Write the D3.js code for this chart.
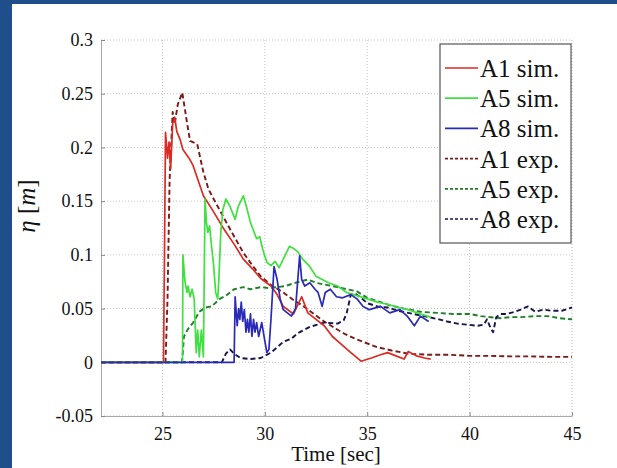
<!DOCTYPE html>
<html>
<head>
<meta charset="utf-8">
<script src="https://cdn.jsdelivr.net/npm/d3@7"></script>
<style>
  html, body { margin: 0; padding: 0; background: #1e4f8a; }
  svg { display: block; }
  svg text { font-family: 'Liberation Serif', 'Times New Roman', serif; }
</style>
</head>
<body>
<svg id="chart" width="617" height="468"></svg>
<script>
// Surface elevation at gauges A1, A5, A8: simulation (solid) vs experiment (dashed)
const xTicks = [25, 30, 35, 40, 45];
const yTicks = [-0.05, 0, 0.05, 0.1, 0.15, 0.2, 0.25, 0.3];
const yTickLabels = ["-0.05", "0", "0.05", "0.1", "0.15", "0.2", "0.25", "0.3"];
const seriesNames = ["A1 sim.", "A5 sim.", "A8 sim.", "A1 exp.", "A5 exp.", "A8 exp."];

const a1Sim = [[22,0],[25.05,0],[25.1,0.1],[25.15,0.214],[25.25,0.19],[25.32,0.205],[25.4,0.18],[25.5,0.222],[25.6,0.228],[25.7,0.215],[25.87,0.207],[26.0,0.198],[26.3,0.19],[26.5,0.183],[27.0,0.155],[27.5,0.14],[28.0,0.124],[28.5,0.11],[28.95,0.096],[29.4,0.087],[29.8,0.078],[30.3,0.071],[30.6,0.063],[30.9,0.052],[31.4,0.045],[31.8,0.061],[32.1,0.046],[32.5,0.04],[32.9,0.034],[33.3,0.024],[33.6,0.019],[34.2,0.009],[34.7,0.001],[35.2,0.004],[35.65,0.007],[36.0,0.009],[36.4,0.006],[36.8,0.003],[37.0,0.01],[37.4,0.006],[37.8,0.004],[38.1,0.003]];

const a5Sim = [[22,0],[25.98,0],[26.0,0.1],[26.1,0.075],[26.2,0.065],[26.25,0.071],[26.35,0.061],[26.45,0.068],[26.55,0.059],[26.65,0.009],[26.72,0.03],[26.8,0.005],[26.9,0.03],[27.0,0.005],[27.08,0.152],[27.15,0.13],[27.22,0.121],[27.3,0.127],[27.4,0.108],[27.5,0.09],[27.6,0.065],[27.7,0.059],[27.75,0.075],[27.85,0.121],[27.95,0.142],[28.1,0.152],[28.3,0.145],[28.55,0.133],[28.7,0.145],[28.95,0.155],[29.1,0.145],[29.3,0.13],[29.6,0.115],[29.75,0.117],[29.9,0.105],[30.1,0.093],[30.3,0.09],[30.5,0.094],[30.7,0.088],[30.9,0.096],[31.2,0.108],[31.4,0.106],[31.6,0.103],[31.85,0.096],[32.2,0.089],[32.5,0.08],[33.1,0.074],[33.55,0.071],[34.0,0.065],[34.5,0.062],[35.0,0.059],[35.5,0.056],[36.0,0.054],[36.5,0.051],[37.0,0.049],[37.6,0.045],[38.1,0.042]];

const a8Sim = [[22,0],[28.5,0],[28.55,0.061],[28.65,0.034],[28.72,0.05],[28.78,0.04],[28.85,0.056],[28.92,0.038],[29.0,0.049],[29.08,0.028],[29.15,0.04],[29.22,0.028],[29.3,0.045],[29.37,0.024],[29.45,0.04],[29.52,0.028],[29.6,0.037],[29.7,0.024],[29.85,0.037],[30.0,0.02],[30.1,0.009],[30.2,0.012],[30.3,0.04],[30.45,0.089],[30.6,0.077],[30.75,0.059],[30.9,0.049],[31.1,0.046],[31.3,0.043],[31.5,0.05],[31.7,0.099],[31.8,0.077],[31.95,0.071],[32.2,0.074],[32.45,0.068],[32.6,0.065],[32.8,0.052],[32.95,0.065],[33.2,0.068],[33.5,0.061],[33.8,0.06],[34.2,0.063],[34.5,0.059],[34.8,0.052],[35.1,0.049],[35.65,0.052],[36.1,0.046],[36.6,0.049],[36.95,0.043],[37.3,0.034],[37.6,0.043],[38.0,0.038]];

const a1Exp = [[22,0],[25.15,0],[25.25,0.06],[25.35,0.17],[25.5,0.233],[25.6,0.222],[25.75,0.24],[25.97,0.251],[26.2,0.223],[26.35,0.206],[26.7,0.203],[27.0,0.177],[27.25,0.161],[27.7,0.145],[28.3,0.124],[28.95,0.102],[29.4,0.09],[29.8,0.08],[30.3,0.072],[30.9,0.065],[31.4,0.058],[31.9,0.052],[32.4,0.045],[32.9,0.038],[33.4,0.032],[33.85,0.027],[34.4,0.022],[34.8,0.019],[35.5,0.014],[36.2,0.011],[37,0.008],[38,0.007],[39,0.007],[40,0.006],[41,0.006],[42,0.0055],[43,0.0055],[44,0.005],[45,0.005]];

const a5Exp = [[22,0],[25.95,0],[26.0,0.01],[26.05,0.024],[26.25,0.031],[26.5,0.037],[26.8,0.047],[27.1,0.051],[27.4,0.052],[27.8,0.059],[28.1,0.062],[28.5,0.068],[28.95,0.07],[29.3,0.068],[29.8,0.07],[30.2,0.069],[30.6,0.07],[31.0,0.071],[31.5,0.074],[32.1,0.077],[32.5,0.074],[33.0,0.072],[33.55,0.07],[34.0,0.068],[34.5,0.066],[35.0,0.06],[35.5,0.057],[36.1,0.053],[36.8,0.05],[37.6,0.047],[38.4,0.046],[39.2,0.045],[40.0,0.045],[40.55,0.043],[41.5,0.041],[42.0,0.042],[42.5,0.042],[43.2,0.043],[43.8,0.043],[44.4,0.041],[45,0.04]];

const a8Exp = [[22,0],[27.9,0],[28.1,0.008],[28.3,0.012],[28.5,0.008],[28.8,0.004],[29.3,0.003],[29.8,0.004],[30.1,0.007],[30.3,0.009],[30.6,0.014],[30.9,0.019],[31.3,0.022],[31.6,0.027],[32.2,0.033],[32.9,0.037],[33.55,0.036],[33.85,0.039],[34.0,0.046],[34.2,0.063],[34.4,0.064],[34.7,0.06],[35.0,0.055],[35.5,0.052],[36.0,0.051],[36.5,0.048],[37.0,0.046],[37.5,0.044],[38.0,0.042],[38.5,0.04],[38.9,0.038],[39.4,0.036],[39.9,0.035],[40.4,0.034],[40.7,0.035],[40.85,0.04],[41.0,0.033],[41.15,0.028],[41.3,0.042],[41.5,0.045],[41.8,0.045],[42.2,0.047],[42.5,0.049],[42.85,0.052],[43.2,0.047],[43.6,0.049],[44.0,0.048],[44.5,0.048],[45,0.051]];

const series = [
  { name: seriesNames[0], data: a1Sim, color: "#dd2a22", dash: null },
  { name: seriesNames[1], data: a5Sim, color: "#3fe03f", dash: null },
  { name: seriesNames[2], data: a8Sim, color: "#2a2ab8", dash: null },
  { name: seriesNames[3], data: a1Exp, color: "#7a1a1a", dash: "5,3" },
  { name: seriesNames[4], data: a5Exp, color: "#1f7f28", dash: "5,3" },
  { name: seriesNames[5], data: a8Exp, color: "#16164a", dash: "5,3" }
];

const svg = d3.select("#chart");
const font = "'Liberation Serif', 'Times New Roman', serif";

// white panel inside the blue frame
svg.append("rect").attr("x", 12).attr("y", 4).attr("width", 605).attr("height", 464).attr("fill", "#ffffff");

const plot = { left: 101, right: 572, top: 40, bottom: 416 };
const x = d3.scaleLinear().domain([22, 45]).range([plot.left, plot.right]);
const y = d3.scaleLinear().domain([-0.05, 0.3]).range([plot.bottom, plot.top]);

// dotted grid
const grid = svg.append("g");
grid.selectAll(".gx").data(xTicks).join("line")
  .attr("x1", d => x(d)).attr("x2", d => x(d))
  .attr("y1", plot.top).attr("y2", plot.bottom)
  .attr("stroke", "#c4c4c4").attr("stroke-width", 1).attr("stroke-dasharray", "1,2");
grid.selectAll(".gy").data(yTicks).join("line")
  .attr("x1", plot.left).attr("x2", plot.right)
  .attr("y1", d => y(d)).attr("y2", d => y(d))
  .attr("stroke", "#c4c4c4").attr("stroke-width", 1).attr("stroke-dasharray", "1,2");

// axes with inward ticks
const xAxis = svg.append("g").attr("transform", `translate(0,${plot.bottom})`)
  .call(d3.axisBottom(x).tickValues(xTicks).tickSizeInner(-4).tickSizeOuter(0).tickPadding(11).tickFormat(d3.format("d")));
const yAxis = svg.append("g").attr("transform", `translate(${plot.left},0)`)
  .call(d3.axisLeft(y).tickValues(yTicks).tickSizeInner(-4).tickSizeOuter(0).tickPadding(8)
    .tickFormat((d, i) => yTickLabels[i]));
[xAxis, yAxis].forEach(a => {
  a.attr("font-family", null);
  a.select(".domain").attr("stroke", "#a8a8a8");
  a.selectAll(".tick line").attr("stroke", "#888");
  a.selectAll("text").style("font-family", font).style("font-size", "18px").attr("fill", "#111");
});
xAxis.selectAll("text").attr("dy", "0.71em");

// right box edge
svg.append("line").attr("x1", plot.right).attr("x2", plot.right).attr("y1", plot.top).attr("y2", plot.bottom)
  .attr("stroke", "#d0d0d0").attr("stroke-dasharray", "1,2");

// curves
const line = d3.line().x(d => x(d[0])).y(d => y(d[1]));
const lines = svg.append("g");
// experiment first, simulations on top
[3, 4, 5, 0, 1, 2].forEach(i => {
  const s = series[i];
  lines.append("path").datum(s.data)
    .attr("d", line).attr("fill", "none")
    .attr("stroke", s.color).attr("stroke-width", s.dash ? 1.9 : 1.7)
    .attr("stroke-dasharray", s.dash).attr("stroke-linejoin", "round");
});

// legend
const lg = svg.append("g");
lg.append("rect").attr("x", 440).attr("y", 44).attr("width", 131).attr("height", 199)
  .attr("fill", "#fff").attr("stroke", "#555").attr("stroke-width", 1.2);
series.forEach((s, i) => {
  const yy = 68 + i * 30.2;
  lg.append("line").attr("x1", 445).attr("x2", 478).attr("y1", yy).attr("y2", yy)
    .attr("stroke", s.color).attr("stroke-width", 1.7).attr("stroke-dasharray", s.dash ? "3,2" : null);
  lg.append("text").attr("x", 480).attr("y", yy + 9).text(s.name)
    .style("font-family", font).style("font-size", "25px").attr("fill", "#111");
});

// axis titles
svg.append("text").attr("x", 336).attr("y", 461).attr("text-anchor", "middle")
  .style("font-family", font).style("font-size", "21px").attr("fill", "#111").text("Time [sec]");

const yl = svg.append("text").attr("transform", "translate(35,206) rotate(-90)")
  .attr("text-anchor", "middle").style("font-family", font).style("font-size", "25px").attr("fill", "#111");
yl.append("tspan").attr("font-style", "italic").text("η");
yl.append("tspan").text(" [");
yl.append("tspan").attr("font-style", "italic").text("m");
yl.append("tspan").text("]");
</script>
</body>
</html>
